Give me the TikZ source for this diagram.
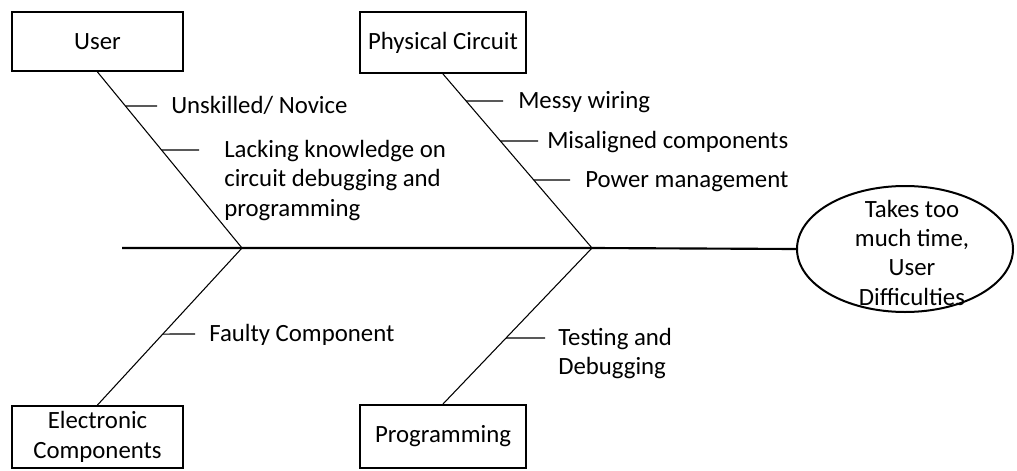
\documentclass[tikz,border=0pt]{standalone}
\usepackage{fontspec}
\setmainfont{Carlito}
\usetikzlibrary{shapes.geometric,calc}
\begin{document}
\begin{tikzpicture}[x=0.75pt,y=-0.75pt,
  txt/.style={font=\fontsize{18.6}{22}\selectfont},
  catbox/.style={txt, draw, line width=1.5pt, inner sep=0pt, align=center},
  bone/.style={line width=0.8pt},
  spine/.style={line width=1.6pt},
  cause/.style={txt, anchor=base west, inner sep=0pt, align=left},
]
\useasboundingbox (0,0) rectangle (1017,471);

% category boxes
\node[catbox, minimum width=128.25pt, minimum height=44.25pt] (user) at (97.5,41.5) {User};
\node[catbox, minimum width=124.5pt, minimum height=45.75pt] (phys) at (443,42.5) {Physical Circuit};
\node[catbox, minimum width=128.25pt, minimum height=46.5pt] (elec) at (97.5,437) {Electronic\\Components};
\node[catbox, minimum width=124.5pt, minimum height=47.25pt] (prog) at (443,436.5) {Programming};

% effect
\node[draw, ellipse, line width=1.5pt, minimum width=162pt, minimum height=94.5pt, inner sep=0pt] (eff) at (905,249) {};
\node[txt, align=center, inner sep=0pt] (efftxt) at (912,252.5) {Takes too\\much time,\\User\\Difficulties};

% spine and junctions
\coordinate (tail) at (122,248);
\coordinate (j1) at (242,248);
\coordinate (j2) at (592,248);
\draw[spine] (tail) -- (j1) -- (j2) -- (eff.west);

% main bones
\draw[bone] (user.south) -- (j1);
\draw[bone] (phys.south) -- (j2);
\draw[bone] (elec.north) -- (j1);
\draw[bone] (prog.north) -- (j2);

% causes: User (multi-line labels are anchored at the last line's baseline)
\coordinate (u1) at ($(user.south)!0.193!(j1)$);
\coordinate (u1e) at (157,106);
\node[cause] (lu1) at (171,113.5) {Unskilled/ Novice};
\draw[bone] (u1) -- (u1e);
\coordinate (u2) at ($(user.south)!0.443!(j1)$);
\coordinate (u2e) at (199,150);
\node[cause] (lu2) at (224,216.2) {Lacking knowledge on\\circuit debugging and\\programming};
\draw[bone] (u2) -- (u2e);

% causes: Physical Circuit
\coordinate (p1) at ($(phys.south)!0.155!(j2)$);
\coordinate (p1e) at (503,101);
\node[cause] (lp1) at (518,108.5) {Messy wiring};
\draw[bone] (p1) -- (p1e);
\coordinate (p2) at ($(phys.south)!0.385!(j2)$);
\coordinate (p2e) at (538,141);
\node[cause] (lp2) at (547,148.5) {Misaligned components};
\draw[bone] (p2) -- (p2e);
\coordinate (p3) at ($(phys.south)!0.609!(j2)$);
\coordinate (p3e) at (570,180);
\node[cause] (lp3) at (585,187.5) {Power management};
\draw[bone] (p3) -- (p3e);

% causes: Electronic Components
\coordinate (e1) at ($(elec.north)!0.452!(j1)$);
\coordinate (e1e) at (195,334);
\node[cause] (le1) at (209,341.5) {Faulty Component};
\draw[bone] (e1) -- (e1e);

% causes: Programming
\coordinate (g1) at ($(prog.north)!0.423!(j2)$);
\coordinate (g1e) at (545,338);
\node[cause] (lg1) at (558,374.8) {Testing and\\Debugging};
\draw[bone] (g1) -- (g1e);
\end{tikzpicture}
\end{document}
